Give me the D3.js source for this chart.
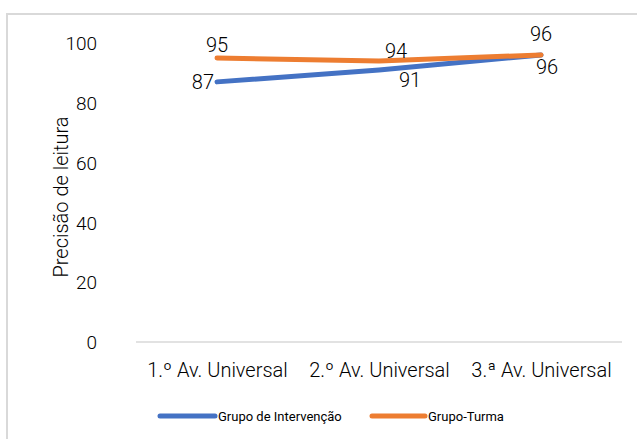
<!DOCTYPE html>
<html><head><meta charset="utf-8">
<script src="https://cdn.jsdelivr.net/npm/d3@7"></script>
<style>
html,body{margin:0;padding:0;background:#fff;}
svg text{font-family:Roboto,"Liberation Sans",sans-serif;font-weight:300;}
</style></head>
<body>
<script>
const categories = ["1.º Av. Universal", "2.º Av. Universal", "3.ª Av. Universal"];
const intervencao = [87, 91, 96];
const turma = [95, 94, 96];
const yTicks = [0, 20, 40, 60, 80, 100];
const seriesNames = ["Grupo de Intervenção", "Grupo-Turma"];

const W = 637, H = 439;
const svg = d3.select("body").append("svg").attr("width", W).attr("height", H);

svg.append("rect").attr("x", 7).attr("y", 14).attr("width", W - 7 + 2).attr("height", H - 14 + 2)
  .attr("fill", "#fff").attr("stroke", "#d9d9d9").attr("stroke-width", 2);

const x = d3.scalePoint().domain(categories).range([217, 541]);
const y = d3.scaleLinear().domain([0, 100]).range([342, 43]);

// baseline
svg.append("line").attr("x1", 136).attr("x2", 622).attr("y1", y(0)).attr("y2", y(0))
  .attr("stroke", "#d9d9d9").attr("stroke-width", 1.5);

// y axis labels
const yAxis = d3.axisLeft(y).tickValues(yTicks).tickSize(0).tickPadding(0);
const gy = svg.append("g").attr("transform", "translate(97,0)").call(yAxis);
gy.select(".domain").remove();
gy.selectAll("text").attr("font-size", 19).attr("fill", "#000")
  .attr("font-family", null).attr("dy", "0.35em");

// x axis labels
const xAxis = d3.axisBottom(x).tickSize(0).tickPadding(0);
const gx = svg.append("g").attr("transform", "translate(0,363)").call(xAxis);
gx.select(".domain").remove();
gx.selectAll("text").attr("font-size", 20).attr("fill", "#000")
  .attr("font-family", null).attr("dy", "0.35em").attr("y", 7);

// y title
svg.append("text").attr("transform", "translate(61,197) rotate(-90)")
  .attr("text-anchor", "middle").attr("dominant-baseline", "central")
  .attr("font-size", 20).attr("fill", "#000")
  .text("Precisão de leitura");

const line = d3.line().x((d, i) => x(categories[i])).y(d => y(d));

svg.append("path").datum(intervencao).attr("d", line).attr("fill", "none")
  .attr("stroke", "#4472C4").attr("stroke-width", 5).attr("stroke-linecap", "round").attr("stroke-linejoin", "round");
svg.append("path").datum(turma).attr("d", line).attr("fill", "none")
  .attr("stroke", "#ED7D31").attr("stroke-width", 5).attr("stroke-linecap", "round").attr("stroke-linejoin", "round");

// data labels (offsets relative to each point, as placed in the reference)
const lab = (xx, yy, t, anchor) => svg.append("text").attr("x", xx).attr("y", yy)
  .attr("text-anchor", anchor).attr("dominant-baseline", "central")
  .attr("font-size", 20).attr("fill", "#000").text(t);

const turmaOff = [[0, -13], [17, -10], [0, -21]];
turma.forEach((v, i) => {
  lab(x(categories[i]) + turmaOff[i][0], y(v) + turmaOff[i][1], v, "middle");
});
lab(x(categories[0]) - 3, y(intervencao[0]), intervencao[0], "end");
lab(x(categories[1]) + 31, y(intervencao[1]) + 10, intervencao[1], "middle");
lab(x(categories[2]) + 6, y(intervencao[2]) + 12, intervencao[2], "middle");

// legend
const legend = [
  {name: seriesNames[0], color: "#4472C4", x1: 160, x2: 215},
  {name: seriesNames[1], color: "#ED7D31", x1: 372, x2: 425}
];
legend.forEach(l => {
  svg.append("line").attr("x1", l.x1).attr("x2", l.x2).attr("y1", 416).attr("y2", 416)
    .attr("stroke", l.color).attr("stroke-width", 5).attr("stroke-linecap", "round");
  svg.append("text").attr("x", l.x2 + 3).attr("y", 416).attr("dominant-baseline", "central")
    .attr("font-size", 13).attr("font-weight", 400).style("font-weight", 400)
    .attr("fill", "#000").text(l.name);
});
</script>
</body></html>
